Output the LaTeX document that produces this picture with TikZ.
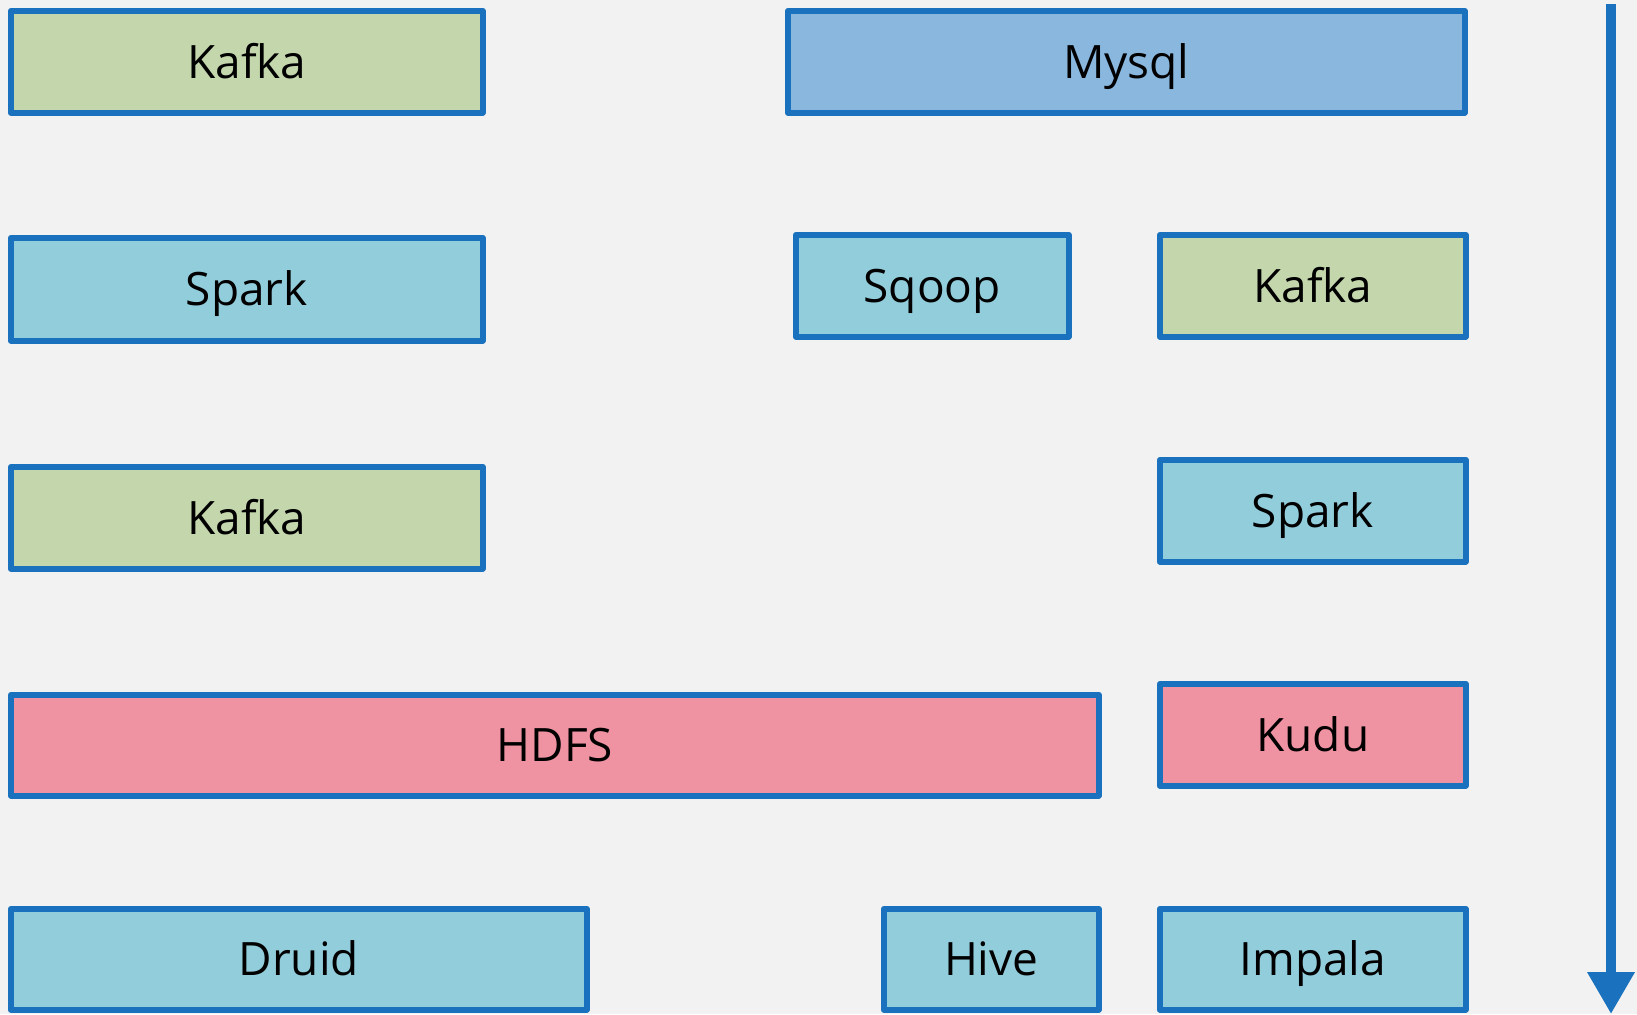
\documentclass[tikz,border=0pt]{standalone}
\usepackage{fontspec}
\setsansfont{Open Sans}
\usetikzlibrary{arrows.meta,positioning}
\definecolor{bggray}{HTML}{F2F2F2}
\definecolor{edgeblue}{HTML}{1A72BE}
\definecolor{kafkagreen}{HTML}{C3D6AC}
\definecolor{sqlblue}{HTML}{8AB7DE}
\definecolor{toolblue}{HTML}{92CDDC}
\definecolor{storepink}{HTML}{EF93A3}

\begin{document}
\begin{tikzpicture}[x=0.5pt,y=-0.5pt,
    tool/.style={draw=edgeblue, line width=2.75pt, line join=round, rectangle, anchor=north west,
      minimum height=51pt, inner sep=0pt, text height=16.5pt, text depth=0pt,
      font=\sffamily\fontsize{23}{27}\selectfont}]

   \fill[bggray] (0,0) rectangle (1637,1014);
   \useasboundingbox (0,0) rectangle (1637,1014);

   \node[tool, fill=kafkagreen, minimum width=236pt] (kafka1) at (8,8) {Kafka};
   \node[tool, fill=sqlblue, minimum width=338.5pt] (mysql) at (785,8) {Mysql};

   \node[tool, fill=toolblue, minimum width=236pt, minimum height=51.5pt] (spark1) at (8,235) {Spark};
   \node[tool, fill=toolblue, minimum width=136.5pt] (sqoop) at (793,232) {Sqoop};
   \node[tool, fill=kafkagreen, minimum width=153pt] (kafka2) at (1157,232) {Kafka};

   \node[tool, fill=kafkagreen, minimum width=236pt] (kafka3) at (8,464) {Kafka};
   \node[tool, fill=toolblue, minimum width=153pt] (spark2) at (1157,457) {Spark};

   \node[tool, fill=storepink, minimum width=544pt, minimum height=50.5pt] (hdfs) at (8,692) {HDFS};
   \node[tool, fill=storepink, minimum width=153pt] (kudu) at (1157,681) {Kudu};

   \node[tool, fill=toolblue, minimum width=288pt, minimum height=50.5pt] (druid) at (8,906) {Druid};
   \node[tool, fill=toolblue, minimum width=107.5pt, minimum height=50.5pt] (hive) at (881,906) {Hive};
   \node[tool, fill=toolblue, minimum width=153pt, minimum height=50.5pt] (impala) at (1157,906) {Impala};

   \coordinate (flowtop) at (1611,4);
   \coordinate (flowend) at (1611,1014);
   \draw[edgeblue, line width=5pt, -{Triangle[width=22.5pt,length=21pt]}] (flowtop) -- (flowend);

\end{tikzpicture}
\end{document}
